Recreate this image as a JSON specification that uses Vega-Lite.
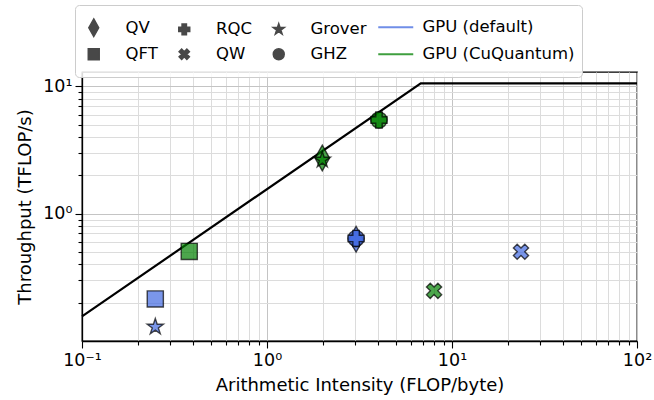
{
  "$schema": "https://vega.github.io/schema/vega-lite/v6.json",
  "autosize": "none",
  "width": 555,
  "height": 269,
  "padding": {"left": 82, "top": 72, "right": 17, "bottom": 59},
  "background": "white",
  "config": {
    "font": "DejaVu Sans",
    "view": {"stroke": "black", "strokeWidth": 1.3},
    "axis": {
      "labelFont": "DejaVu Sans", "titleFont": "DejaVu Sans",
      "labelFontSize": 17.5, "titleFontSize": 18, "titleFontWeight": "normal",
      "labelColor": "black", "titleColor": "black",
      "domainColor": "black", "domainWidth": 1.3,
      "tickColor": "black", "tickWidth": 1.1
    },
    "legend": {"labelFont": "DejaVu Sans", "labelFontSize": 16.5, "labelColor": "black"}
  },
  "layer": [
    {
      "data": {"values": [
        {"ai": 0.1, "tp": 0.156},
        {"ai": 6.78, "tp": 10.6},
        {"ai": 100, "tp": 10.6}
      ]},
      "mark": {"type": "line", "color": "black", "strokeWidth": 2.2},
      "encoding": {
        "x": {"field": "ai", "type": "quantitative"},
        "y": {"field": "tp", "type": "quantitative"}
      }
    },
    {
      "data": {"values": [
        {"algo": "QV", "device": "GPU (default)", "ai": 3.03, "tp": 0.63},
        {"algo": "GHZ", "device": "GPU (default)", "ai": 3.03, "tp": 0.64},
        {"algo": "RQC", "device": "GPU (default)", "ai": 3.03, "tp": 0.64},
        {"algo": "QFT", "device": "GPU (default)", "ai": 0.249, "tp": 0.214},
        {"algo": "Grover", "device": "GPU (default)", "ai": 0.249, "tp": 0.129},
        {"algo": "QW", "device": "GPU (default)", "ai": 23.6, "tp": 0.503},
        {"algo": "QV", "device": "GPU (CuQuantum)", "ai": 1.99, "tp": 2.74},
        {"algo": "Grover", "device": "GPU (CuQuantum)", "ai": 1.99, "tp": 2.65},
        {"algo": "QFT", "device": "GPU (CuQuantum)", "ai": 0.38, "tp": 0.506},
        {"algo": "GHZ", "device": "GPU (CuQuantum)", "ai": 4.03, "tp": 5.45},
        {"algo": "RQC", "device": "GPU (CuQuantum)", "ai": 4.03, "tp": 5.45},
        {"algo": "QW", "device": "GPU (CuQuantum)", "ai": 8.0, "tp": 0.248}
      ]},
      "mark": {"type": "point", "filled": true, "size": 260, "fillOpacity": 0.7, "stroke": "black", "strokeOpacity": 0.7, "strokeWidth": 1.4},
      "encoding": {
        "x": {
          "field": "ai", "type": "quantitative",
          "scale": {"type": "log", "domain": [0.1, 100], "nice": false},
          "axis": {
            "title": "Arithmetic Intensity (FLOP/byte)",
            "values": [0.1,0.2,0.3,0.4,0.5,0.6,0.7,0.8,0.9,1,2,3,4,5,6,7,8,9,10,20,30,40,50,60,70,80,90,100],
            "labelExpr": "datum.value == 0.1 ? '10⁻¹' : datum.value == 1 ? '10⁰' : datum.value == 10 ? '10¹' : datum.value == 100 ? '10²' : ''",
            "labelPadding": 3, "titlePadding": 8,
            "tickSize": {"condition": {"test": "datum.value == 0.1 || datum.value == 1 || datum.value == 10 || datum.value == 100", "value": 7}, "value": 4},
            "gridColor": {"condition": {"test": "datum.value == 0.1 || datum.value == 1 || datum.value == 10 || datum.value == 100", "value": "#c4c4c4"}, "value": "#dcdcdc"},
            "gridWidth": 1,
            "labelFlush": false, "labelOverlap": false
          }
        },
        "y": {
          "field": "tp", "type": "quantitative",
          "scale": {"type": "log", "domain": [0.1, 13], "nice": false},
          "axis": {
            "title": "Throughput (TFLOP/s)",
            "values": [0.2,0.3,0.4,0.5,0.6,0.7,0.8,0.9,1,2,3,4,5,6,7,8,9,10],
            "labelExpr": "datum.value == 1 ? '10⁰' : datum.value == 10 ? '10¹' : ''",
            "labelPadding": 3, "titlePadding": 8,
            "tickSize": {"condition": {"test": "datum.value == 1 || datum.value == 10", "value": 7}, "value": 4},
            "gridColor": {"condition": {"test": "datum.value == 1 || datum.value == 10", "value": "#c4c4c4"}, "value": "#dcdcdc"},
            "gridWidth": 1,
            "labelFlush": false, "labelOverlap": false
          }
        },
        "shape": {
          "field": "algo", "type": "nominal",
          "scale": {
            "domain": ["QV", "RQC", "Grover", "QFT", "QW", "GHZ"],
            "range": [
              "M0,-1.6L0.9,0L0,1.6L-0.9,0Z",
              "cross",
              "M0,-1.05L0.236,-0.324L0.999,-0.324L0.381,0.124L0.617,0.849L0,0.401L-0.617,0.849L-0.381,0.124L-0.999,-0.324L-0.236,-0.324Z",
              "square",
              "M-0.474,0.941L0,0.467L0.474,0.941L0.941,0.474L0.467,0L0.941,-0.474L0.474,-0.941L0,-0.467L-0.474,-0.941L-0.941,-0.474L-0.467,0L-0.941,0.474Z",
              "circle"
            ]
          },
          "legend": {
            "orient": "none", "legendX": -7, "legendY": -67,
            "columns": 3, "direction": "horizontal", "gridAlign": "each",
            "title": " ", "titleOrient": "right", "titlePadding": 201,
            "padding": 14, "symbolOffset": -3.5, "symbolSize": 120,
            "labelOffset": 23.5, "rowPadding": 5, "columnPadding": 17.5,
            "strokeColor": "#cccccc", "fillColor": "rgba(255,255,255,0.85)", "cornerRadius": 4,
            "zindex": 0,
            "encoding": {"symbols": {"fill": {"value": "#484848"}, "stroke": {"value": "#484848"}, "opacity": {"value": 1}}}
          }
        },
        "fill": {
          "field": "device", "type": "nominal",
          "scale": {"domain": ["GPU (default)", "GPU (CuQuantum)"], "range": ["#4169e1", "#008000"]},
          "legend": {
            "orient": "none", "legendX": 305.5, "legendY": -53,
            "title": null, "padding": 0, "symbolOffset": 0,
            "symbolType": "M-3.5,0L3.5,0", "symbolSize": 100,
            "labelOffset": 18.5, "rowPadding": 10,
            "zindex": 1,
            "encoding": {"symbols": {"stroke": {"value": {"expr": "scale('fill', datum.value)"}}, "strokeWidth": {"value": 2.2}, "opacity": {"value": 0.75}, "fill": {"value": "transparent"}}}
          }
        }
      }
    }
  ]
}
